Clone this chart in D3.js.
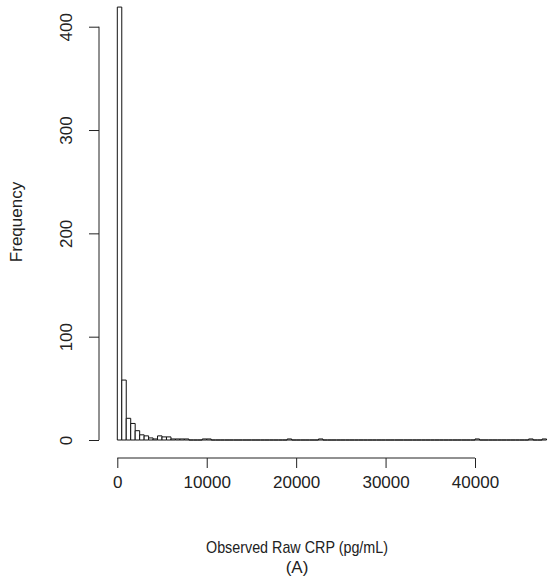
<!DOCTYPE html>
<html>
<head>
<meta charset="utf-8">
<script src="https://cdn.jsdelivr.net/npm/d3@7"></script>
<style>
  body { margin: 0; background: #fff; }
  text { font-family: 'Liberation Sans', Arial, sans-serif; fill: #222; }
</style>
</head>
<body>
<svg id="chart" width="548" height="587"></svg>
<script>
// histogram of observed raw CRP, bins of 500 pg/mL starting at 0
const binWidth = 500;
const counts = [
  419, 58, 21, 16, 9, 5, 4, 2, 1, 4,
  3, 3, 1, 1, 1, 1, 0, 0, 0, 1,
  1, 0, 0, 0, 0, 0, 0, 0, 0, 0,
  0, 0, 0, 0, 0, 0, 0, 0, 1, 0,
  0, 0, 0, 0, 0, 1, 0, 0, 0, 0,
  0, 0, 0, 0, 0, 0, 0, 0, 0, 0,
  0, 0, 0, 0, 0, 0, 0, 0, 0, 0,
  0, 0, 0, 0, 0, 0, 0, 0, 0, 0,
  1, 0, 0, 0, 0, 0, 0, 0, 0, 0,
  0, 0, 1, 0, 0, 1
];
const xTicks = [0, 10000, 20000, 30000, 40000];
const yTicks = [0, 100, 200, 300, 400];
const xLabel = 'Observed Raw CRP (pg/mL)';
const subLabel = '(A)';
const yLabel = 'Frequency';

const svg = d3.select('#chart');

const x = d3.scaleLinear().domain([0, 40000]).range([117.3, 475]);
const y = d3.scaleLinear().domain([0, 400]).range([440, 26.7]);

const bins = counts.map((c, i) => ({ x0: i * binWidth, x1: (i + 1) * binWidth, count: c }));

// paths instead of rects so empty bins still leave their base line, like R's hist
svg.append('g')
  .selectAll('path')
  .data(bins)
  .join('path')
  .attr('d', d => {
    const p = d3.path();
    p.moveTo(x(d.x0), y(0));
    p.lineTo(x(d.x0), y(d.count));
    p.lineTo(x(d.x1), y(d.count));
    p.lineTo(x(d.x1), y(0));
    p.closePath();
    return p.toString();
  })
  .attr('fill', '#fff')
  .attr('stroke', '#111')
  .attr('stroke-width', 1);

// x axis, R style: line only spans the ticks
const xAxisY = 458;
const gx = svg.append('g')
  .attr('transform', `translate(0,${xAxisY})`)
  .call(d3.axisBottom(x).tickValues(xTicks).tickFormat(d3.format('d')).tickSize(10).tickSizeOuter(0));
gx.select('.domain').remove();
gx.append('line')
  .attr('x1', x(xTicks[0])).attr('x2', x(xTicks[xTicks.length - 1]))
  .attr('stroke', '#222');
gx.selectAll('.tick line').attr('stroke', '#222');
gx.selectAll('.tick text')
  .attr('y', 18)
  .attr('dy', '0.71em')
  .style('font-size', '17px')
  .attr('fill', '#222');

// y axis
const yAxisX = 99;
const gy = svg.append('g')
  .attr('transform', `translate(${yAxisX},0)`)
  .call(d3.axisLeft(y).tickValues(yTicks).tickSize(10).tickSizeOuter(0));
gy.select('.domain').remove();
gy.append('line')
  .attr('y1', y(yTicks[0])).attr('y2', y(yTicks[yTicks.length - 1]))
  .attr('stroke', '#222');
gy.selectAll('.tick line').attr('stroke', '#222');
gy.selectAll('.tick text')
  .attr('x', null).attr('dy', null)
  .attr('text-anchor', 'middle')
  .attr('transform', 'translate(-27,0) rotate(-90)')
  .style('font-size', '17px')
  .attr('fill', '#222');

svg.append('text')
  .attr('transform', 'translate(22,222) rotate(-90)')
  .attr('text-anchor', 'middle')
  .style('font-size', '17px')
  .text(yLabel);

svg.append('text')
  .attr('x', 297).attr('y', 553)
  .attr('text-anchor', 'middle')
  .attr('textLength', 182)
  .attr('lengthAdjust', 'spacingAndGlyphs')
  .style('font-size', '17px')
  .text(xLabel);

svg.append('text')
  .attr('x', 297).attr('y', 573)
  .attr('text-anchor', 'middle')
  .style('font-size', '17px')
  .text(subLabel);
</script>
</body>
</html>
